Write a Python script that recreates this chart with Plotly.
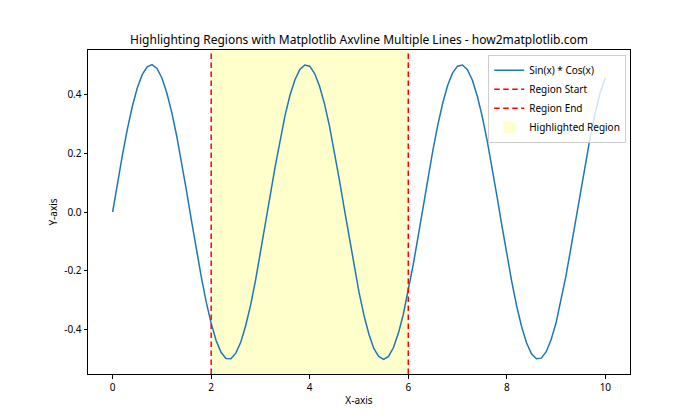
import plotly.graph_objects as go

# data
x_vals = [round(i * 0.1, 1) for i in range(101)]
y_vals = [0.0, 0.099, 0.195, 0.282, 0.359, 0.421, 0.466, 0.493, 0.500, 0.487,
          0.455, 0.404, 0.338, 0.258, 0.167, 0.071, -0.029, -0.128, -0.221, -0.306,
          -0.378, -0.436, -0.476, -0.497, -0.498, -0.479, -0.442, -0.386, -0.316, -0.232,
          -0.140, -0.042, 0.058, 0.156, 0.247, 0.328, 0.397, 0.449, 0.484, 0.499,
          0.495, 0.470, 0.427, 0.367, 0.292, 0.206, 0.111, 0.012, -0.087, -0.183,
          -0.272, -0.350, -0.414, -0.463, -0.490, -0.500, -0.490, -0.460, -0.411, -0.347,
          -0.268, -0.179, -0.083, 0.017, 0.116, 0.210, 0.296, 0.370, 0.430, 0.472,
          0.495, 0.499, 0.483, 0.448, 0.394, 0.325, 0.243, 0.152, 0.054, -0.046,
          -0.144, -0.236, -0.319, -0.389, -0.444, -0.481, -0.498, -0.496, -0.474, -0.433,
          -0.376, -0.301, -0.217, -0.123, -0.025, 0.075, 0.171, 0.261, 0.341, 0.407,
          0.456]
region_start = 2
region_end = 6
x_ticks = [0, 2, 4, 6, 8, 10]
y_ticks = [-0.4, -0.2, 0.0, 0.2, 0.4]
y_tick_text = ["-0.4", "-0.2", "0.0", "0.2", "0.4"]

FONT = "Noto Sans"
fig = go.Figure()
fig.add_trace(go.Scatter(x=x_vals, y=y_vals, mode="lines", name="Sin(x) * Cos(x)",
                         line=dict(color="#1f77b4", width=1.5),
                         legendrank=1))

fig.add_shape(type="rect", xref="x", yref="paper", x0=region_start, x1=region_end, y0=0, y1=1,
              fillcolor="rgb(255,255,204)", line=dict(width=0), layer="below",
              showlegend=True, name="Highlighted Region", legendrank=4)
fig.add_shape(type="line", xref="x", yref="paper", x0=region_start, x1=region_start, y0=0, y1=1,
              line=dict(color="red", width=1.5, dash="5.5px,3.5px"), layer="above",
              showlegend=True, name="Region Start", legendrank=2)
fig.add_shape(type="line", xref="x", yref="paper", x0=region_end, x1=region_end, y0=0, y1=1,
              line=dict(color="red", width=1.5, dash="5.5px,3.5px"), layer="above",
              showlegend=True, name="Region End", legendrank=3)

axis_common = dict(showline=True, linecolor="black", linewidth=1, mirror=True,
                   ticks="outside", ticklen=3.5, tickwidth=0.8, tickcolor="black",
                   showgrid=False, zeroline=False, automargin=False,
                   tickfont=dict(family=FONT, size=10, color="black"))
fig.update_xaxes(range=[-0.5, 10.5], tickvals=x_ticks,
                 title=dict(text="X-axis", font=dict(family=FONT, size=10, color="black"), standoff=4),
                 **axis_common)
fig.update_yaxes(range=[-0.5498, 0.5498], tickvals=y_ticks, ticktext=y_tick_text,
                 title=dict(text="Y-axis", font=dict(family=FONT, size=10, color="black"), standoff=4),
                 **axis_common)

fig.update_layout(
    width=700, height=420,
    margin=dict(l=88, r=70, t=50, b=46, pad=0),
    paper_bgcolor="white", plot_bgcolor="white",
    title=dict(text="Highlighting Regions with Matplotlib Axvline Multiple Lines - how2matplotlib.com",
               x=(88 + 630) / 2 / 700, xanchor="center", y=1 - 40 / 420, yanchor="middle",
               font=dict(family=FONT, size=12, color="black")),
    legend=dict(x=0.993, xanchor="right", y=0.985, yanchor="top",
                bgcolor="rgba(255,255,255,0.8)", bordercolor="#cccccc", borderwidth=1,
                font=dict(family=FONT, size=10, color="black"),
                itemwidth=30, tracegroupgap=0),
    showlegend=True,
)

fig.write_html("out.html", config={"displayModeBar": False},
               post_script="document.body.style.margin='0';")
